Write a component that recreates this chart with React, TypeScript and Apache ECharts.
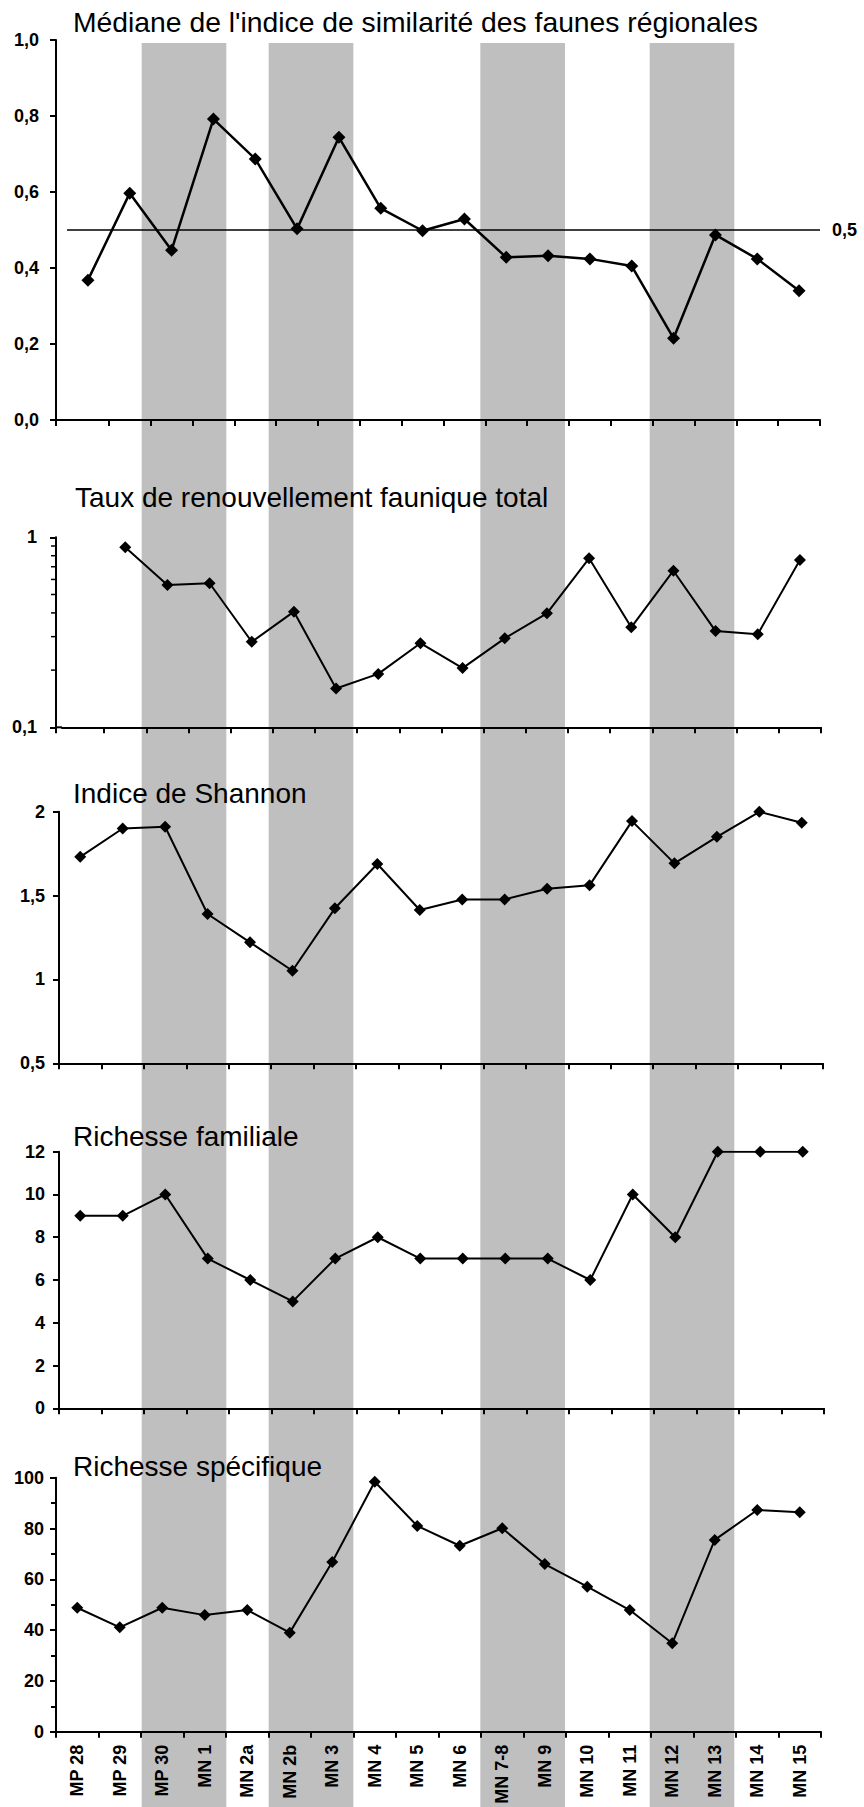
import React, { useEffect, useRef } from "react";
import * as echarts from "echarts";

const categories = ["MP 28", "MP 29", "MP 30", "MN 1", "MN 2a", "MN 2b", "MN 3", "MN 4", "MN 5", "MN 6", "MN 7-8", "MN 9", "MN 10", "MN 11", "MN 12", "MN 13", "MN 14", "MN 15"];
const shaded = [0, 0, 1, 1, 0, 1, 1, 0, 0, 0, 1, 1, 0, 0, 1, 1, 0, 0];

const similarity = [0.368, 0.597, 0.447, 0.792, 0.687, 0.503, 0.744, 0.557, 0.498, 0.529, 0.428, 0.432, 0.424, 0.405, 0.215, 0.487, 0.424, 0.34];
const turnover = [null, 0.886, 0.561, 0.573, 0.282, 0.406, 0.16, 0.191, 0.277, 0.205, 0.294, 0.398, 0.775, 0.336, 0.667, 0.321, 0.309, 0.76];
const shannon = [1.731, 1.9, 1.91, 1.39, 1.221, 1.052, 1.424, 1.688, 1.414, 1.477, 1.477, 1.541, 1.561, 1.944, 1.692, 1.85, 1.999, 1.934];
const familial = [9, 9, 10, 7, 6, 5, 7, 8, 7, 7, 7, 7, 6, 10, 8, 12, 12, 12];
const specific = [48.8, 41.1, 48.8, 45.9, 47.9, 39.0, 66.8, 98.4, 81.0, 73.2, 80.1, 66.0, 57.1, 47.9, 34.8, 75.5, 87.3, 86.4];

const titles = [
  "Médiane de l'indice de similarité des faunes régionales",
  "Taux de renouvellement faunique total",
  "Indice de Shannon",
  "Richesse familiale",
  "Richesse spécifique",
];
const referenceLine = 0.5;
const referenceLabel = "0,5";
const logMinorTicks = [0.2, 0.3, 0.4, 0.5, 0.6, 0.7, 0.8, 0.9];

const FONT = '"Liberation Sans", Arial, sans-serif';

const panels = [
  { left: 67, width: 753, top: 40, height: 380, offset: 11, margin: 17, titleX: 73, titleY: 22, titleSize: 28.3 },
  { left: 62, width: 759, top: 537.3, height: 190, offset: 6, margin: 19, titleX: 75, titleY: 497, titleSize: 28 },
  { left: 59, width: 764, top: 811.7, height: 251.6, offset: 0, margin: 14, titleX: 73, titleY: 793, titleSize: 28 },
  { left: 59, width: 765, top: 1151.7, height: 256.6, offset: 0, margin: 14, titleX: 73, titleY: 1136.5, titleSize: 28 },
  { left: 56, width: 765, top: 1477.7, height: 254, offset: 0, margin: 12, titleX: 73, titleY: 1466, titleSize: 28 },
];

const fmt = (v: number) => String(Number(v.toFixed(3))).replace(".", ",");

// contiguous shaded runs [startIndex, endIndex]
function shadedRuns(flags: number[]) {
  const runs: number[][] = [];
  let start = -1;
  flags.forEach((f, i) => {
    if (f && start < 0) start = i;
    if ((!f || i === flags.length - 1) && start >= 0) {
      runs.push([start, f ? i : i - 1]);
      start = -1;
    }
  });
  return runs;
}

export default function App() {
  const ref = useRef<HTMLDivElement>(null);
  useEffect(() => {
    if (!ref.current) return;
    const chart = echarts.init(ref.current, undefined, { renderer: "svg" });

    const grids: any[] = [{ left: 57, width: 762, top: 43, height: 1764 }];
    panels.forEach((p) => grids.push({ left: p.left, width: p.width, top: p.top, height: p.height }));

    const xAxes: any[] = [
      { type: "category", gridIndex: 0, data: categories, show: false, boundaryGap: true },
    ];
    panels.forEach((p, i) => {
      xAxes.push({
        type: "category",
        gridIndex: i + 1,
        data: categories,
        boundaryGap: true,
        axisLine: { show: true, lineStyle: { color: "#000", width: 2 } },
        axisTick: {
          show: true,
          length: 6,
          lineStyle: { color: "#000", width: 2 },
          interval: p.offset > 0 ? (idx: number) => idx !== 0 : 0,
        },
        axisLabel: i === 4
          ? {
              show: true,
              interval: 0,
              rotate: 90,
              margin: 13,
              color: "#000",
              fontWeight: "bold",
              fontSize: 18,
              fontFamily: FONT,
              padding: [10, 0, 0, 0],
            }
          : { show: false },
        splitLine: { show: false },
      });
    });

    const baseY = (i: number) => ({
      gridIndex: i + 1,
      offset: panels[i].offset,
      axisLine: { show: true, lineStyle: { color: "#000", width: 2 } },
      axisTick: { show: true, length: 6, lineStyle: { color: "#000", width: 2 } },
      axisLabel: {
        color: "#000",
        fontWeight: "bold",
        fontSize: 18,
        fontFamily: FONT,
        margin: panels[i].margin,
        formatter: (v: number) => fmt(v),
      },
      splitLine: { show: false },
    });

    const yAxes: any[] = [
      { type: "value", gridIndex: 0, min: 0, max: 1, show: false },
      { ...baseY(0), type: "value", min: 0, max: 1, interval: 0.2, axisLabel: { ...baseY(0).axisLabel, formatter: (v: number) => v.toFixed(1).replace(".", ",") } },
      { ...baseY(1), type: "log", logBase: 10, min: 0.1, max: 1 },
      { ...baseY(2), type: "value", min: 0.5, max: 2, interval: 0.5 },
      { ...baseY(3), type: "value", min: 0, max: 12, interval: 2 },
      {
        ...baseY(4),
        type: "value",
        min: 0,
        max: 100,
        interval: 20,
        minorTick: { show: true, splitNumber: 2, length: 5, lineStyle: { color: "#000", width: 2 } },
      },
    ];

    const lineSeries = (data: any[], idx: number, width: number, size: number, extra: any = {}) => ({
      type: "line",
      xAxisIndex: idx,
      yAxisIndex: idx,
      data,
      symbol: "diamond",
      symbolSize: size,
      showSymbol: true,
      lineStyle: { color: "#000", width },
      itemStyle: { color: "#000" },
      z: 5,
      ...extra,
    });

    const series: any[] = [
      {
        type: "custom",
        xAxisIndex: 0,
        yAxisIndex: 0,
        silent: true,
        clip: false,
        z: -1,
        data: shadedRuns(shaded),
        encode: { x: [0, 1] },
        renderItem: (params: any, api: any) => {
          const band = api.size([1, 0])[0];
          const x1 = api.coord([api.value(0), 0])[0] - band / 2;
          const x2 = api.coord([api.value(1), 0])[0] + band / 2;
          const cs = params.coordSys;
          return {
            type: "rect",
            shape: { x: x1, y: cs.y, width: x2 - x1, height: cs.height },
            style: { fill: "#bfbfbf" },
          };
        },
      },
      lineSeries(similarity, 1, 2.5, 13, {
        markLine: {
          silent: true,
          symbol: "none",
          lineStyle: { color: "#000", width: 1.5, type: "solid" },
          label: {
            show: true,
            position: "end",
            distance: 12,
            formatter: referenceLabel,
            color: "#000",
            fontWeight: "bold",
            fontSize: 18,
            fontFamily: FONT,
          },
          data: [{ yAxis: referenceLine }],
        },
      }),
      lineSeries(turnover, 2, 2, 12),
      lineSeries(shannon, 3, 2, 12),
      lineSeries(familial, 4, 2, 12),
      lineSeries(specific, 5, 2, 12),
      {
        type: "custom",
        xAxisIndex: 2,
        yAxisIndex: 2,
        silent: true,
        clip: false,
        data: logMinorTicks.map((v) => [0, v]),
        encode: { x: 0, y: 1 },
        renderItem: (params: any, api: any) => {
          const y = api.coord([0, api.value(1)])[1];
          const ax = params.coordSys.x - panels[1].offset;
          return {
            type: "line",
            shape: { x1: ax - 5, y1: y, x2: ax, y2: y },
            style: { stroke: "#000", lineWidth: 1.5 },
          };
        },
      },
    ];

    const graphic: any[] = [];
    titles.forEach((t, i) => {
      graphic.push({
        type: "text",
        x: panels[i].titleX,
        y: panels[i].titleY,
        z: 10,
        style: { text: t, fill: "#000", font: `${panels[i].titleSize}px ${FONT}`, verticalAlign: "middle", align: "left" },
      });
    });
    // close the gap between offset y-axis and category axis start (panels 1 & 2)
    [0, 1].forEach((i) => {
      const p = panels[i];
      const yb = p.top + p.height;
      const ax = p.left - p.offset;
      graphic.push({ type: "line", shape: { x1: ax, y1: yb, x2: p.left, y2: yb }, style: { stroke: "#000", lineWidth: 2 }, z: 10 });
      graphic.push({ type: "line", shape: { x1: ax, y1: yb, x2: ax, y2: yb + 6 }, style: { stroke: "#000", lineWidth: 2 }, z: 10 });
    });

    chart.setOption({
      animation: false,
      backgroundColor: "#fff",
      textStyle: { fontFamily: FONT },
      grid: grids,
      xAxis: xAxes,
      yAxis: yAxes,
      series,
      graphic,
    });
    return () => chart.dispose();
  }, []);

  return <div ref={ref} style={{ position: "absolute", left: 0, top: 0, width: 864, height: 1807 }} />;
}
